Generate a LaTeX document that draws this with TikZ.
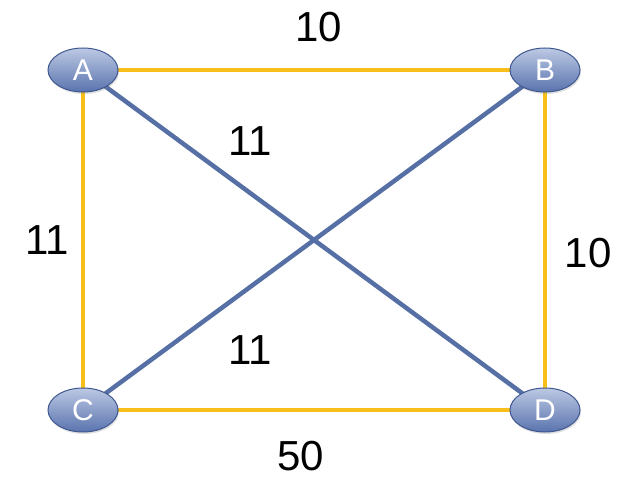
\documentclass[tikz,border=0pt]{standalone}
\usepackage{fontspec}
\setmainfont{Liberation Sans}
\usetikzlibrary{shapes.geometric,shadows,backgrounds}

\definecolor{edgegold}{HTML}{F8BE1A}
\definecolor{edgeblue}{HTML}{5670A6}
\definecolor{nodetop}{HTML}{BCC9E4}
\definecolor{nodebot}{HTML}{5A73AE}
\definecolor{nodeline}{HTML}{3F5890}

\begin{document}
\begin{tikzpicture}[
    x=1pt, y=-1pt,
    router/.style={ellipse, draw=nodeline, line width=1pt, top color=nodetop, bottom color=nodebot,
      minimum width=70pt, minimum height=44pt, inner sep=0pt, text=white,
      font=\fontsize{30}{30}\selectfont, drop shadow={opacity=0.25, shadow xshift=1pt, shadow yshift=-2pt}},
    gold/.style={edgegold, line width=4.5pt},
    blue/.style={edgeblue, line width=4.5pt},
    weight/.style={font=\fontsize{42}{42}\selectfont, inner sep=0pt}
]
\useasboundingbox (0,0) rectangle (631,478);

\node[router] (A) at (83,70) {A};
\node[router] (B) at (545,70) {B};
\node[router] (C) at (83,410) {C};
\node[router] (D) at (545,410) {D};

% links run under the routers
\begin{pgfonlayer}{background}
\draw[blue] (A.center) -- (D.center);
\draw[blue] (B.center) -- (C.center);
\draw[gold] (A.center) -- (B.center);
\draw[gold] (A.center) -- (C.center);
\draw[gold] (B.center) -- (D.center);
\draw[gold] (C.center) -- (D.center);
\end{pgfonlayer}

\node[weight] (wab) at (319,27) {10};
\node[weight] (wad) at (250,141) {11};
\node[weight] (wac) at (47,240) {11};
\node[weight] (wbd) at (588,253) {10};
\node[weight] (wbc) at (250,350) {11};
\node[weight] (wcd) at (301,456) {50};
\end{tikzpicture}
\end{document}
